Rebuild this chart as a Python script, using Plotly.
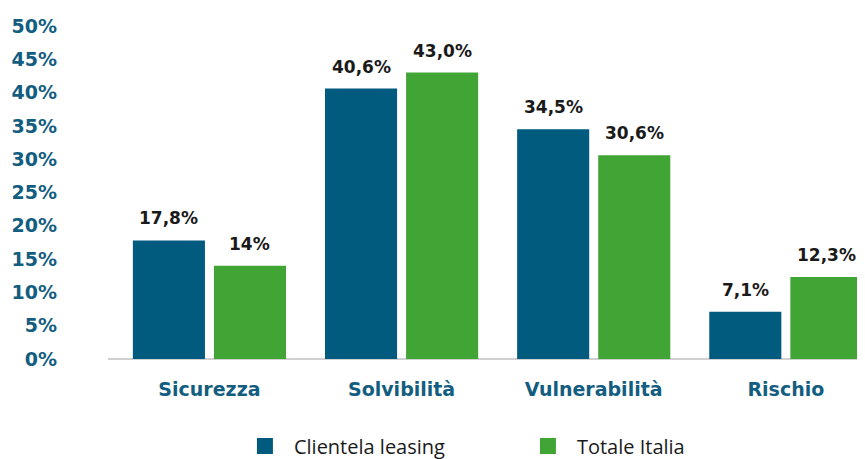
import plotly.graph_objects as go

categories = ["Sicurezza", "Solvibilità", "Vulnerabilità", "Rischio"]
clientela = [17.8, 40.6, 34.5, 7.1]
totale = [14.0, 43.0, 30.6, 12.3]
clientela_labels = ["17,8%", "40,6%", "34,5%", "7,1%"]
totale_labels = ["14%", "43,0%", "30,6%", "12,3%"]
y_ticks = [0, 5, 10, 15, 20, 25, 30, 35, 40, 45, 50]
y_ticklabels = [f"{v}%" for v in y_ticks]
series_names = ["Clientela leasing", "Totale Italia"]

BLUE = "#005B7E"
GREEN = "#41A535"
AXIS_TXT = "#135E80"
BOLD_FONT = "DejaVu Sans"
REG_FONT = "Open Sans"

fig = go.Figure()
fig.add_trace(go.Bar(name=series_names[0], x=categories, y=clientela, showlegend=False,
                     marker=dict(color=BLUE, line=dict(width=0))))
fig.add_trace(go.Bar(name=series_names[1], x=categories, y=totale, showlegend=False,
                     marker=dict(color=GREEN, line=dict(width=0))))
# legend entries with larger square symbols
for name, col in zip(series_names, [BLUE, GREEN]):
    fig.add_trace(go.Scatter(name=name, x=[None], y=[None], mode="markers",
                             marker=dict(symbol="square", size=16, color=col)))

ann = []
for i, c in enumerate(categories):
    for vals, labs, shift in ((clientela, clientela_labels, -40.5), (totale, totale_labels, 40.5)):
        ann.append(dict(x=c, y=vals[i], text=labs[i], showarrow=False,
                        xref="x", yref="y", yanchor="bottom", xshift=shift, yshift=10,
                        font=dict(family=BOLD_FONT, size=17, color="#1a1a1a", weight=700)))

fig.update_layout(
    width=865, height=459,
    margin=dict(l=100, r=8, t=18, b=108, autoexpand=False),
    paper_bgcolor="white", plot_bgcolor="white",
    barmode="group", bargap=0.156, bargroupgap=0.111,
    annotations=ann,
    showlegend=True,
    legend=dict(orientation="h", x=0.169, xanchor="left", y=-0.203, yanchor="top",
                font=dict(family=REG_FONT, size=20, color="#1a1a1a"),
                entrywidth=220, entrywidthmode="pixels", itemwidth=48),
    xaxis=dict(range=[-0.528, 3.412], showgrid=False, zeroline=False,
               showline=False, ticks="", ticklabelstandoff=17,
               tickfont=dict(family=BOLD_FONT, size=19, color=AXIS_TXT, weight=700)),
    yaxis=dict(range=[0, 50], tickvals=y_ticks, ticktext=y_ticklabels,
               showgrid=False, zeroline=True, zerolinecolor="#d0d0d0", zerolinewidth=1.5,
               showline=False, ticks="", ticklabelstandoff=50,
               tickfont=dict(family=BOLD_FONT, size=19, color=AXIS_TXT, weight=700)),
)

fig.write_html("out.html")
